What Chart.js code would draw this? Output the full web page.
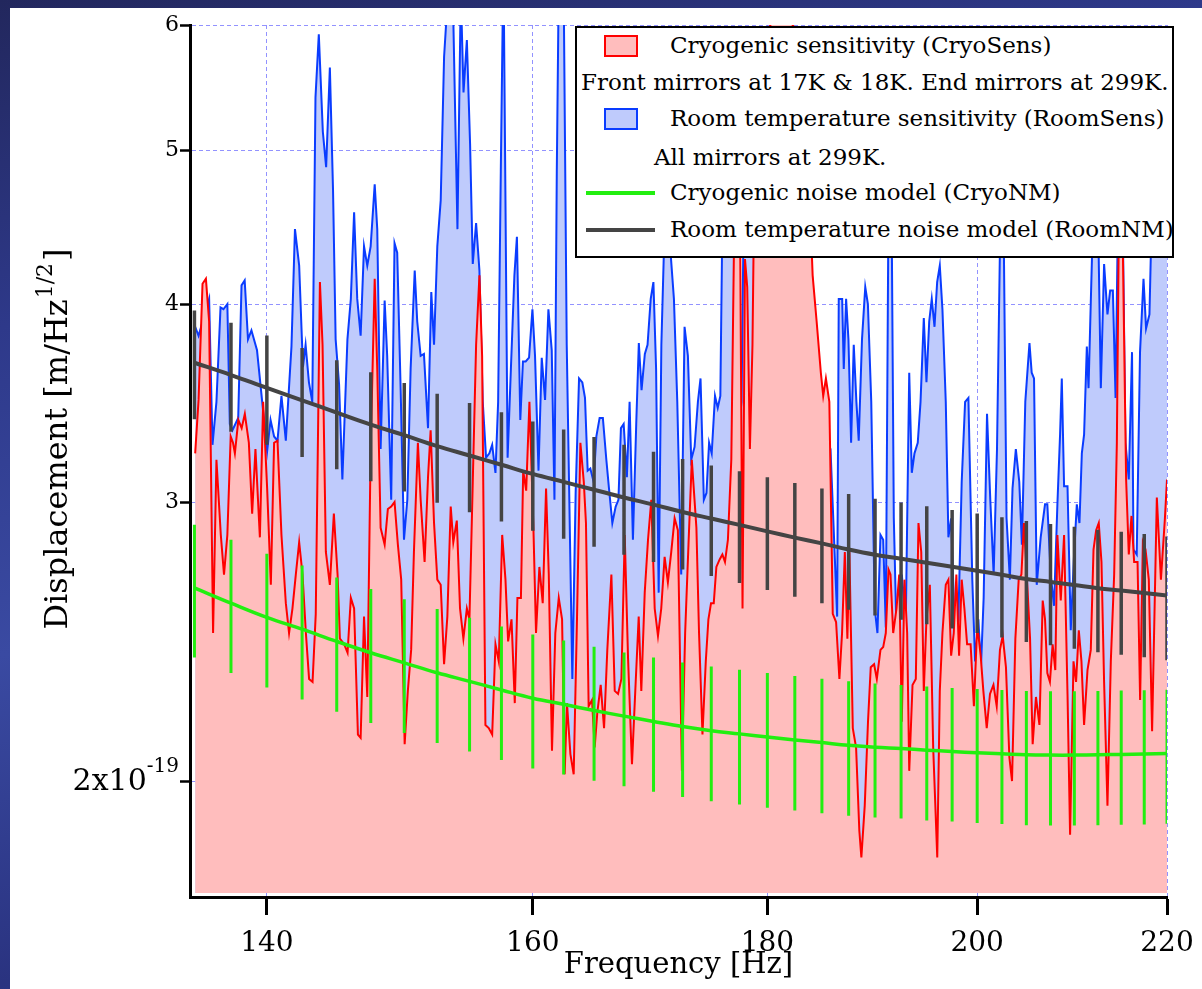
<!DOCTYPE html>
<html>
<head>
<meta charset="utf-8">
<script src="https://cdn.jsdelivr.net/npm/chart.js@4.4.1/dist/chart.umd.min.js"></script>
<style>
  html, body { margin: 0; padding: 0; width: 1202px; height: 989px; overflow: hidden; }
  body {
    position: relative;
    background: linear-gradient(165deg, #22275d 0%, #2e398a 25%, #3a4aa2 50%, #2a3380 75%, #35439a 100%);
  }
  #panel { position: absolute; left: 10px; top: 8px; right: 0; bottom: 0; background: #ffffff; }
  #chart { position: absolute; left: 0; top: 0; }
  #legend {
    position: absolute; left: 575px; top: 26px; width: 599px; height: 232px;
    box-sizing: border-box; border: 2px solid #000; background: #fff;
    font-family: "DejaVu Serif", serif; font-size: 23px; color: #000;
  }
  #legend .t { position: absolute; white-space: nowrap; line-height: 28px; }
  #legend .sw { position: absolute; box-sizing: border-box; width: 34px; height: 22px; border-width: 2px; border-style: solid; }
  #legend .ln { position: absolute; width: 69px; }
</style>
</head>
<body>
<div id="panel"></div>
<canvas id="chart" width="1202" height="989"></canvas>
<div id="legend"></div>
<script>
// ---------------- data (units of 1e-19 m/Hz^1/2, frequency in Hz) ----------------
const X_TICKS = [140, 160, 180, 200, 220];
const X_TICK_LABELS = ['140', '160', '180', '200', '220'];
const Y_TICKS = [2, 3, 4, 5, 6];
const Y_TICK_LABELS = ['2x10', '3', '4', '5', '6'];
const Y_TICK_SUPS = ['-19', '', '', '', ''];

const X_TITLE = 'Frequency [Hz]';
const Y_TITLE_MAIN = 'Displacement [m/Hz';
const Y_TITLE_SUP = '1/2';
const Y_TITLE_END = ']';

const LABEL_CRYO_SENS = 'Cryogenic sensitivity (CryoSens)';
const NOTE_CRYO_SENS = 'Front mirrors at 17K & 18K. End mirrors at 299K.';
const LABEL_ROOM_SENS = 'Room temperature sensitivity (RoomSens)';
const NOTE_ROOM_SENS = 'All mirrors at 299K.';
const LABEL_CRYO_NM = 'Cryogenic noise model (CryoNM)';
const LABEL_ROOM_NM = 'Room temperature noise model (RoomNM)';

// Room temperature sensitivity [frequency, value]
const ROOM_SENS = [
[135.05,3.87],[135.28,3.82],[136.00,4.03],[136.23,3.26],[136.50,3.47],[136.78,3.98],[136.98,3.97],[137.25,4.00],
[137.42,3.36],[137.60,3.33],[138.00,3.39],[138.23,4.11],[138.45,4.14],[138.68,3.80],[138.92,3.85],[139.31,3.74],
[140.02,3.23],[140.26,3.38],[140.51,3.30],[140.75,3.28],[141.03,3.50],[141.34,3.28],[141.74,3.76],[141.99,4.46],
[142.29,4.23],[142.56,3.65],[142.75,3.77],[142.99,3.57],[143.23,3.47],[143.46,5.40],[143.70,5.92],[143.99,5.14],
[144.23,4.88],[144.50,5.64],[144.73,4.72],[144.92,3.80],[145.17,3.56],[145.41,3.10],[145.78,3.80],[146.03,4.03],
[146.27,4.57],[146.50,4.03],[146.75,3.82],[147.00,4.35],[147.24,4.23],[147.49,4.35],[147.79,4.76],[147.98,4.46],
[148.23,3.24],[148.53,4.02],[148.72,3.71],[149.02,3.01],[149.27,4.37],[149.47,4.31],[149.73,3.53],[149.98,2.84],
[150.23,3.01],[150.48,3.64],[150.79,4.20],[150.98,3.90],[151.24,3.71],[151.49,3.72],[151.80,3.34],[152.05,4.07],
[152.26,3.77],[152.51,4.35],[152.77,4.65],[153.03,5.73],[153.34,6.30],[153.65,6.60],[154.06,4.46],[154.32,6.30],
[154.53,5.44],[154.79,5.87],[155.04,5.05],[155.25,4.24],[155.51,4.50],[155.77,4.20],[156.03,3.47],[156.29,3.20],
[156.55,3.22],[156.77,3.26],[157.03,3.13],[157.24,3.47],[157.45,4.85],[157.66,6.60],[157.99,3.20],[158.25,3.64],
[158.53,4.17],[158.73,4.41],[159.00,3.38],[159.21,3.68],[159.43,3.68],[159.70,3.70],[159.97,3.97],[160.18,3.71],
[160.46,3.14],[160.72,3.70],[160.99,3.48],[161.26,3.97],[161.53,3.74],[161.75,3.01],[161.94,4.85],[162.12,6.60],
[162.48,6.60],[162.75,3.77],[163.21,2.32],[163.48,3.04],[163.76,3.59],[164.03,3.57],[164.25,3.49],[164.47,3.14],
[164.69,3.15],[164.96,3.09],[165.19,3.30],[165.46,3.39],[165.73,3.39],[166.02,3.19],[166.24,3.06],[166.52,2.91],
[166.80,2.98],[167.03,3.01],[167.24,3.34],[167.47,3.36],[167.74,3.11],[167.97,3.47],[168.25,2.84],[168.53,3.36],
[168.75,3.78],[168.98,3.53],[169.26,3.72],[169.49,3.77],[169.76,4.03],[169.99,4.13],[170.22,3.64],[170.44,2.63],
[170.67,3.77],[170.90,4.35],[171.18,4.52],[171.46,4.31],[171.75,4.03],[172.04,3.47],[172.38,2.70],[172.67,3.87],
[172.96,3.71],[173.25,3.19],[173.54,3.25],[173.83,3.47],[174.06,3.59],[174.35,3.01],[174.58,3.04],[174.81,3.27],
[175.04,3.22],[175.33,3.50],[175.57,3.44],[175.80,3.50],[176.03,4.85],[176.44,5.40],[176.97,5.70],[177.33,4.00],
[177.50,3.37],[177.68,3.47],[177.92,4.85],[178.90,5.40],[180.30,5.70],[182.10,5.50],[183.50,5.00],[184.08,4.17],
[184.86,3.38],[185.80,3.24],[186.42,2.54],[186.57,4.03],[186.89,4.03],[187.04,3.64],[187.26,4.03],[187.48,3.80],
[187.73,3.27],[187.98,3.77],[188.23,3.47],[188.45,3.28],[188.76,3.80],[189.07,4.10],[189.32,4.00],[189.64,3.47],
[189.97,2.57],[190.23,2.48],[190.52,2.86],[190.78,2.84],[191.03,2.50],[191.29,4.65],[191.58,4.65],[191.80,2.93],
[192.06,2.48],[192.32,2.57],[192.57,2.70],[192.96,2.53],[193.29,3.62],[193.54,3.13],[193.80,3.22],[194.12,3.27],
[194.39,3.47],[194.71,3.92],[194.97,3.57],[195.24,3.90],[195.49,4.03],[195.76,3.87],[196.02,4.13],[196.28,4.23],
[196.54,3.97],[196.87,3.47],[197.13,2.85],[197.40,2.93],[197.79,2.46],[198.12,2.53],[198.45,3.09],[198.79,3.47],
[199.12,3.49],[199.51,2.68],[199.79,2.38],[200.12,2.53],[200.38,2.36],[200.65,2.61],[200.99,3.41],[201.32,3.01],
[201.66,2.70],[202.00,3.24],[202.37,4.65],[202.65,4.65],[202.97,2.93],[203.31,2.68],[203.58,3.06],[203.92,3.24],
[204.27,3.09],[204.54,2.82],[204.89,3.47],[205.32,3.78],[205.55,3.62],[205.79,3.59],[206.07,2.66],[206.48,2.85],
[206.93,2.99],[207.17,2.99],[207.52,2.70],[207.87,2.58],[208.22,2.99],[208.50,3.31],[208.68,3.59],[208.92,3.07],
[209.28,3.07],[209.62,2.49],[209.97,2.78],[210.26,2.99],[210.54,2.91],[210.79,3.22],[211.03,3.31],[211.32,3.76],
[211.50,3.54],[211.74,4.01],[212.03,4.65],[212.40,5.00],[212.81,3.54],[213.16,4.24],[213.52,3.94],[213.81,4.08],
[214.10,4.08],[214.39,3.49],[214.67,4.65],[215.07,5.00],[215.46,3.27],[215.82,3.10],[216.17,3.73],[216.33,2.80],
[216.68,2.78],[217.04,3.73],[217.42,4.15],[217.70,3.86],[218.07,3.94],[218.36,4.65],[219.10,5.00],[220.00,4.80]
];

// Cryogenic sensitivity [frequency, value]
const CRYO_SENS = [
[135.05,3.22],[135.28,3.48],[135.55,4.12],[135.78,4.15],[136.00,3.90],[136.27,2.48],[136.50,3.19],[136.80,2.86],
[137.02,2.70],[137.25,2.86],[137.48,3.30],[137.64,3.27],[137.77,3.22],[138.01,3.38],[138.24,3.34],[138.46,3.41],
[138.74,3.27],[138.97,2.95],[139.20,3.24],[139.51,2.85],[139.74,3.47],[140.02,3.06],[140.28,2.66],[140.51,3.27],
[140.75,3.28],[141.03,2.86],[141.34,2.59],[141.57,2.48],[141.81,2.57],[142.05,2.70],[142.29,2.83],[142.53,2.70],
[142.77,2.48],[143.00,2.32],[143.25,2.31],[143.48,2.55],[143.78,4.13],[143.97,3.77],[144.21,2.79],[144.50,2.66],
[144.79,2.95],[145.06,2.70],[145.23,2.46],[145.54,2.44],[145.79,2.41],[146.03,2.61],[146.27,2.57],[146.55,2.14],
[146.75,2.13],[147.00,2.54],[147.24,2.26],[147.49,3.24],[147.79,4.15],[147.98,3.64],[148.23,2.89],[148.53,2.82],
[148.77,2.97],[149.02,2.98],[149.27,3.00],[149.52,2.82],[149.77,2.68],[150.03,2.11],[150.27,2.28],[150.52,2.42],
[150.73,2.79],[151.03,3.27],[151.24,3.01],[151.54,2.75],[151.80,3.11],[152.00,3.33],[152.26,2.91],[152.51,2.68],
[152.77,2.66],[153.03,2.37],[153.28,2.54],[153.54,2.98],[153.74,2.83],[154.01,2.92],[154.26,2.57],[154.52,2.46],
[154.79,2.57],[154.99,2.53],[155.25,3.09],[155.51,3.77],[155.77,4.17],[155.98,3.71],[156.24,2.17],[156.50,2.16],
[156.77,2.14],[157.03,2.44],[157.29,2.38],[157.56,2.86],[157.82,2.68],[158.03,2.45],[158.30,2.53],[158.56,2.24],
[158.77,2.61],[159.05,2.61],[159.23,3.14],[159.47,3.05],[159.73,3.47],[160.05,2.89],[160.26,2.48],[160.53,2.73],
[160.80,2.59],[161.07,3.06],[161.29,2.70],[161.55,2.09],[161.82,2.48],[162.10,2.61],[162.37,2.53],[162.58,2.02],
[162.77,2.24],[163.05,2.08],[163.32,2.02],[163.59,2.53],[163.87,3.27],[164.15,3.09],[164.33,2.91],[164.55,2.23],
[164.83,2.25],[165.05,2.10],[165.27,2.21],[165.55,2.30],[165.83,2.16],[166.10,2.42],[166.44,2.70],[166.72,2.28],
[167.00,2.27],[167.28,2.32],[167.56,2.86],[167.84,2.39],[168.17,2.05],[168.45,2.28],[168.74,2.54],[168.96,2.28],
[169.25,2.63],[169.53,2.84],[169.81,3.01],[170.10,2.57],[170.38,2.47],[170.66,2.57],[170.95,2.77],[171.23,2.67],
[171.52,2.79],[171.81,2.93],[172.09,2.88],[172.44,2.03],[172.72,2.48],[173.01,2.82],[173.30,3.19],[173.70,2.89],
[173.93,2.48],[174.23,2.14],[174.52,2.38],[174.75,2.53],[174.98,2.59],[175.22,2.59],[175.45,2.73],[175.74,2.76],
[175.98,2.78],[176.21,2.75],[176.47,2.84],[176.77,3.19],[177.06,4.65],[177.32,5.40],[177.57,4.27],[177.77,2.57],
[177.99,4.27],[178.19,4.10],[178.43,3.24],[178.66,3.77],[178.86,5.00],[179.37,5.80],[180.27,6.00],[181.60,6.10],
[183.00,5.90],[183.70,5.00],[184.14,4.17],[184.51,3.90],[184.90,3.62],[185.12,3.50],[185.37,3.59],[185.69,3.47],
[186.01,2.55],[186.32,2.52],[186.63,2.32],[186.88,2.48],[187.14,2.79],[187.38,2.46],[187.57,2.79],[187.89,2.16],
[188.20,2.10],[188.51,1.86],[188.70,1.79],[189.02,1.93],[189.33,2.18],[189.59,2.36],[189.91,2.37],[190.17,2.32],
[190.52,2.42],[190.78,2.43],[191.03,2.48],[191.29,2.72],[191.48,2.70],[191.74,2.48],[192.06,2.57],[192.32,2.70],
[192.57,2.18],[192.83,2.68],[193.09,2.48],[193.29,2.03],[193.61,2.30],[193.93,2.32],[194.19,2.91],[194.46,2.79],
[194.71,2.28],[194.97,2.53],[195.30,2.66],[195.63,2.10],[196.03,1.79],[196.28,2.28],[196.54,2.48],[196.87,2.66],
[197.13,2.68],[197.40,2.40],[197.66,2.48],[197.92,2.70],[198.19,2.40],[198.45,2.68],[198.72,2.57],[198.99,2.44],
[199.34,2.44],[199.67,2.23],[200.01,2.51],[200.35,2.40],[200.62,2.28],[200.96,2.16],[201.29,2.27],[201.64,2.30],
[201.97,2.23],[202.30,2.42],[202.58,2.47],[202.91,2.36],[203.26,2.07],[203.53,2.00],[203.87,2.46],[204.21,2.68],
[204.49,2.70],[204.75,2.91],[205.04,2.70],[205.38,2.46],[205.65,2.11],[205.99,2.26],[206.35,2.17],[206.69,2.60],
[206.93,2.53],[207.17,2.34],[207.44,2.31],[207.72,2.44],[208.00,2.35],[208.22,2.86],[208.57,2.60],[208.92,2.86],
[209.28,2.27],[209.55,1.85],[209.91,2.38],[210.18,2.31],[210.47,2.49],[210.75,2.38],[211.03,2.17],[211.39,2.35],
[211.74,2.42],[212.03,2.80],[212.31,2.88],[212.59,2.91],[212.88,2.75],[213.16,2.31],[213.52,1.93],[213.88,2.38],
[214.24,2.70],[214.53,3.27],[214.82,5.00],[215.10,4.65],[215.53,3.10],[215.82,2.78],[216.11,2.94],[216.40,2.75],
[216.77,2.75],[217.05,2.25],[217.35,2.83],[217.64,2.80],[218.00,2.68],[218.36,2.15],[218.88,3.02],[219.33,2.68],
[219.77,2.93],[220.00,3.10]
];

// Noise models, sampled where their error bars are drawn
const NM_FREQ = [135,137.5,140,142.5,145,147.5,150,152.5,155,157.5,160,162.5,165,167.5,170,172.5,175,177.5,
                 180,182.5,185,187.5,190,192.5,195,197.5,200,202.5,205,207.5,210,212.5,215,217.5,220];
const ROOM_NM = [3.673,3.608,3.541,3.478,3.416,3.357,3.306,3.254,3.210,3.167,3.125,3.089,3.054,3.020,2.989,2.957,2.929,2.902,
                 2.875,2.849,2.825,2.800,2.779,2.763,2.747,2.731,2.715,2.699,2.683,2.671,2.659,2.647,2.638,2.629,2.619];
const ROOM_NM_ERR = [0.29,0.285,0.28,0.275,0.27,0.265,0.26,0.257,0.254,0.251,0.248,0.245,0.243,0.241,0.239,0.237,0.235,0.235,
                     0.235,0.235,0.235,0.235,0.235,0.235,0.235,0.235,0.235,0.235,0.235,0.235,0.235,0.235,0.235,0.235,0.235];
const CRYO_NM = [2.648,2.590,2.537,2.494,2.450,2.410,2.375,2.341,2.312,2.283,2.256,2.236,2.216,2.198,2.181,2.165,2.152,2.142,
                 2.132,2.123,2.115,2.107,2.101,2.097,2.092,2.088,2.084,2.081,2.078,2.077,2.077,2.078,2.079,2.080,2.082];
const CRYO_NM_ERR = [0.255,0.25,0.246,0.242,0.238,0.234,0.23,0.227,0.224,0.221,0.219,0.217,0.215,0.213,0.212,0.211,0.21,0.209,
                     0.208,0.207,0.206,0.205,0.204,0.203,0.203,0.202,0.202,0.202,0.202,0.202,0.202,0.202,0.202,0.202,0.202];

// ---------------- styles ----------------
const C_RED = '#ff0000', C_PINK = '#ffbdbd';
const C_BLUE = '#0a3cff', C_LBLUE = '#bfcbfc';
const C_GREEN = '#22ee10', C_GRAY = '#444444';
const C_GRID = 'rgba(110,110,255,0.75)';
const FONT = '"DejaVu Serif", serif';

const toPts = arr => arr.map(p => ({x: p[0], y: p[1]}));
const curvePts = (f, v) => f.map((x, i) => ({x, y: v[i]}));
function barPts(f, c, e) {
  const out = [];
  f.forEach((x, i) => { out.push({x, y: c[i] - e[i]}, {x, y: c[i] + e[i]}, {x, y: null}); });
  return out;
}

const axisTitles = {
  id: 'axisTitles',
  afterDraw(chart) {
    const {ctx, chartArea: a} = chart;
    const ys = chart.scales.y;
    ctx.save();
    ctx.fillStyle = '#000';
    ctx.textBaseline = 'alphabetic';
    // y tick labels that carry a superscript (e.g. 2x10^-19)
    Y_TICKS.forEach((v, i) => {
      if (!Y_TICK_SUPS[i]) return;
      const py = ys.getPixelForValue(v);
      ctx.font = '20px ' + FONT;
      const ws = ctx.measureText(Y_TICK_SUPS[i]).width;
      ctx.textAlign = 'right';
      ctx.fillText(Y_TICK_SUPS[i], 179, py - 9);
      ctx.font = '30px ' + FONT;
      ctx.fillText(Y_TICK_LABELS[i], 179 - ws, py + 9);
    });
    // x title
    ctx.font = '29px ' + FONT;
    ctx.textAlign = 'center';
    ctx.fillText(X_TITLE, (a.left + a.right) / 2, a.bottom + 76);
    // rotated y title with superscript
    ctx.translate(67, (a.top + a.bottom) / 2 - 22);
    ctx.rotate(-Math.PI / 2);
    ctx.textAlign = 'left';
    ctx.font = '32px ' + FONT;
    const w1 = ctx.measureText(Y_TITLE_MAIN).width;
    const w3 = ctx.measureText(Y_TITLE_END).width;
    ctx.font = '22px ' + FONT;
    const w2 = ctx.measureText(Y_TITLE_SUP).width;
    const x0 = -(w1 + w2 + w3 + 3) / 2;
    ctx.font = '32px ' + FONT;
    ctx.fillText(Y_TITLE_MAIN, x0, 0);
    ctx.fillText(Y_TITLE_END, x0 + w1 + w2 + 3, 0);
    ctx.font = '22px ' + FONT;
    ctx.fillText(Y_TITLE_SUP, x0 + w1 + 1, -15);
    ctx.restore();
  }
};

const chart = new Chart(document.getElementById('chart'), {
  type: 'line',
  data: {
    datasets: [
      { label: LABEL_ROOM_NM + ' bars', data: barPts(NM_FREQ, ROOM_NM, ROOM_NM_ERR), borderColor: C_GRAY,
        borderWidth: 3.5, pointRadius: 0, spanGaps: false, fill: false, order: 0, borderCapStyle: 'butt' },
      { label: LABEL_ROOM_NM, data: curvePts(NM_FREQ, ROOM_NM), borderColor: C_GRAY, borderWidth: 4,
        pointRadius: 0, fill: false, tension: 0.4, order: 1 },
      { label: LABEL_CRYO_NM + ' bars', data: barPts(NM_FREQ, CRYO_NM, CRYO_NM_ERR), borderColor: C_GREEN,
        borderWidth: 3, pointRadius: 0, spanGaps: false, fill: false, order: 2, borderCapStyle: 'butt' },
      { label: LABEL_CRYO_NM, data: curvePts(NM_FREQ, CRYO_NM), borderColor: C_GREEN, borderWidth: 3.5,
        pointRadius: 0, fill: false, tension: 0.4, order: 3 },
      { label: LABEL_CRYO_SENS, data: toPts(CRYO_SENS), borderColor: C_RED, backgroundColor: C_PINK,
        borderWidth: 2, pointRadius: 0, tension: 0, fill: {value: 1.70}, order: 4, clip: 0 },
      { label: LABEL_ROOM_SENS, data: toPts(ROOM_SENS), borderColor: C_BLUE, backgroundColor: C_LBLUE,
        borderWidth: 2, pointRadius: 0, tension: 0, fill: {value: 1.70}, order: 5, clip: 0 }
    ]
  },
  options: {
    responsive: false,
    animation: false,
    devicePixelRatio: 1,
    layout: { padding: { left: 0, right: 35, top: 25, bottom: 0 } },
    plugins: { legend: { display: false }, tooltip: { enabled: false }, title: { display: false } },
    scales: {
      x: {
        type: 'logarithmic', min: 134.7, max: 220,
        afterBuildTicks: s => { s.ticks = X_TICKS.map(v => ({value: v})); },
        afterFit: s => { s.height = 92; s.paddingLeft = 0; s.paddingRight = 0; },
        ticks: {
          autoSkip: false, maxRotation: 0, minRotation: 0, padding: 12, color: '#000',
          font: { family: FONT, size: 28 },
          callback: v => { const i = X_TICKS.indexOf(v); return i >= 0 ? X_TICK_LABELS[i] : ''; }
        },
        grid: { color: C_GRID, lineWidth: 1, tickLength: 18, tickWidth: 3, tickColor: '#000', drawTicks: true },
        border: { display: true, color: '#000', width: 3, dash: [4, 3] }
      },
      y: {
        type: 'logarithmic', min: 1.69, max: 6,
        afterBuildTicks: s => { s.ticks = Y_TICKS.map(v => ({value: v})); },
        afterFit: s => { s.width = 190; s.paddingTop = 0; s.paddingBottom = 0; },
        ticks: {
          autoSkip: false, padding: 1, color: '#000',
          font: { family: FONT, size: 22 },
          // labels with a superscript are drawn by the axisTitles plugin
          callback: v => { const i = Y_TICKS.indexOf(v); return (i >= 0 && !Y_TICK_SUPS[i]) ? Y_TICK_LABELS[i] : ''; }
        },
        grid: { color: C_GRID, lineWidth: 1, tickLength: 10, tickWidth: 2.5, tickColor: '#000', drawTicks: true },
        border: { display: true, color: '#000', width: 3, dash: [4, 3] }
      }
    }
  },
  plugins: [axisTitles]
});

// ---------------- legend (built from the dataset labels) ----------------
(function buildLegend() {
  const lg = document.getElementById('legend');
  const ds = chart.data.datasets;
  const find = l => ds.find(d => d.label === l);
  const items = [
    { kind: 'box', ds: find(LABEL_CRYO_SENS), top: 7 },
    { kind: 'note', text: NOTE_CRYO_SENS, left: 4, top: 40 },
    { kind: 'box', ds: find(LABEL_ROOM_SENS), top: 80 },
    { kind: 'note', text: NOTE_ROOM_SENS, left: 77, top: 115 },
    { kind: 'line', ds: find(LABEL_CRYO_NM), top: 165, h: 3.5 },
    { kind: 'line', ds: find(LABEL_ROOM_NM), top: 202, h: 4 }
  ];
  items.forEach(it => {
    if (it.kind === 'note') {
      const t = document.createElement('div');
      t.className = 't'; t.textContent = it.text;
      t.style.left = it.left + 'px'; t.style.top = it.top + 'px';
      lg.appendChild(t);
      return;
    }
    const m = document.createElement('div');
    if (it.kind === 'box') {
      m.className = 'sw';
      m.style.left = '27px'; m.style.top = it.top + 'px';
      m.style.borderColor = it.ds.borderColor; m.style.background = it.ds.backgroundColor;
    } else {
      m.className = 'ln';
      m.style.left = '9px'; m.style.top = (it.top - it.h / 2) + 'px'; m.style.height = it.h + 'px';
      m.style.background = it.ds.borderColor;
    }
    lg.appendChild(m);
    const t = document.createElement('div');
    t.className = 't'; t.textContent = it.ds.label;
    t.style.left = '93px';
    t.style.top = (it.kind === 'box' ? it.top - 4 : it.top - 15) + 'px';
    lg.appendChild(t);
  });
})();
</script>
</body>
</html>
